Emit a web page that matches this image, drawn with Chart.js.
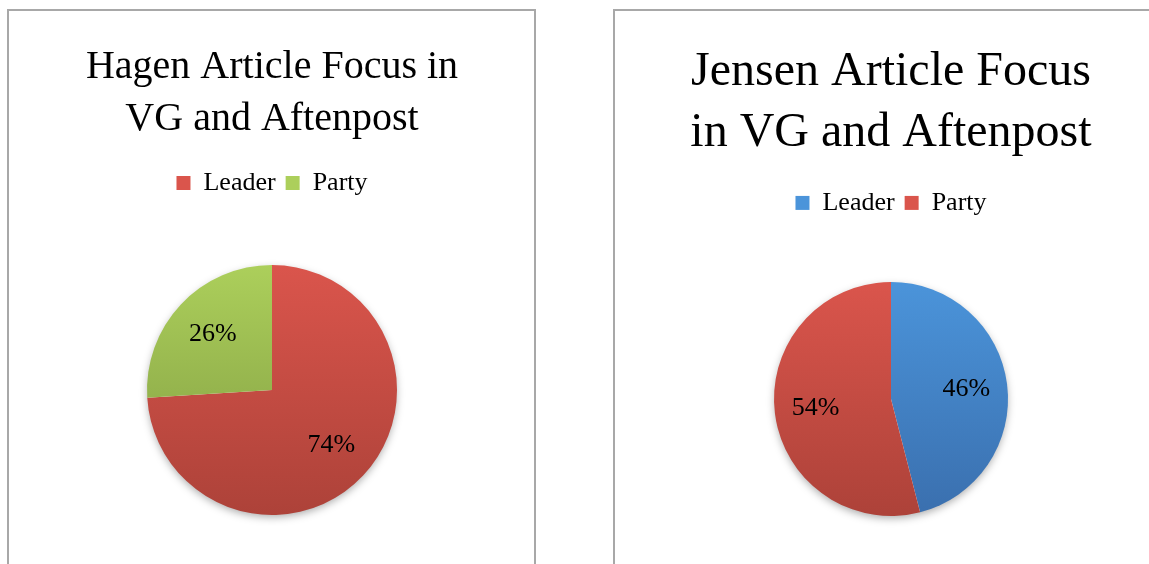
<!DOCTYPE html>
<html>
<head>
<meta charset="utf-8">
<script src="https://cdn.jsdelivr.net/npm/chart.js@4.4.0/dist/chart.umd.min.js"></script>
<style>
  html, body { margin: 0; padding: 0; background: #fff; overflow: hidden; width: 1149px; height: 564px; }
  .frame { position: absolute; border: 2px solid #a8a8a8; border-bottom: none; }
  canvas { position: absolute; top: 0; }
</style>
</head>
<body>
<div class="frame" style="left:7px; top:9px; width:525px; height:600px;"></div>
<div class="frame" style="left:613px; top:9px; width:600px; height:600px;"></div>
<canvas id="hagen" width="524" height="600" style="left:10px;"></canvas>
<canvas id="jensen" width="500" height="600" style="left:641px;"></canvas>
<script>
// data
const hagenTitle = ['Hagen Article Focus in', 'VG and Aftenpost'];
const hagenLabels = ['Leader', 'Party'];
const hagenValues = [74, 26];

const jensenTitle = ['Jensen Article Focus', 'in VG and Aftenpost'];
const jensenLabels = ['Leader', 'Party'];
const jensenValues = [46, 54];

const SERIF = '"Liberation Serif", "Times New Roman", serif';

// excel-ish vertical gradients (top colour, bottom colour)
const RED = ['#da554c', '#ad4239'];
const GREEN = ['#accf5b', '#7f9a40'];
const BLUE = ['#4b94da', '#3a6fae'];

function sliceFill(colours) {
  return function (c) {
    const ca = c.chart.chartArea;
    const pair = colours[c.dataIndex];
    if (!ca) return pair[0];
    const cy = (ca.top + ca.bottom) / 2;
    const r = c.dataset.radius;
    const g = c.chart.ctx.createLinearGradient(0, cy - r, 0, cy + r);
    g.addColorStop(0, pair[0]);
    g.addColorStop(1, pair[1]);
    return g;
  };
}

// soft shadow under the pie + percentage labels
const pieExtras = {
  id: 'pieExtras',
  beforeDatasetsDraw(chart) {
    const arc = chart.getDatasetMeta(0).data[0];
    if (!arc) return;
    const p = arc.getProps(['x', 'y', 'outerRadius'], true);
    const ctx = chart.ctx;
    ctx.save();
    ctx.shadowColor = 'rgba(0,0,0,0.35)';
    ctx.shadowBlur = 8;
    ctx.shadowOffsetY = 3;
    ctx.fillStyle = '#ffffff';
    ctx.beginPath();
    ctx.arc(p.x, p.y, p.outerRadius - 1, 0, Math.PI * 2);
    ctx.fill();
    ctx.restore();
  },
  afterDatasetsDraw(chart) {
    const ctx = chart.ctx;
    const values = chart.data.datasets[0].data;
    const total = values.reduce((a, b) => a + b, 0);
    ctx.save();
    ctx.font = '26px ' + SERIF;
    ctx.fillStyle = '#000';
    ctx.textAlign = 'center';
    ctx.textBaseline = 'middle';
    chart.getDatasetMeta(0).data.forEach(function (arc, i) {
      const p = arc.getProps(['x', 'y', 'startAngle', 'endAngle', 'outerRadius'], true);
      const mid = (p.startAngle + p.endAngle) / 2;
      const x = p.x + Math.cos(mid) * p.outerRadius * 0.65;
      const y = p.y + Math.sin(mid) * p.outerRadius * 0.65;
      ctx.fillText(Math.round(values[i] / total * 100) + '%', x, y);
    });
    ctx.restore();
  }
};

function makePie(id, title, labels, values, colours, opts) {
  new Chart(document.getElementById(id), {
    type: 'pie',
    data: {
      labels: labels,
      datasets: [{
        data: values,
        backgroundColor: sliceFill(colours),
        borderWidth: 0,
        radius: opts.radius
      }]
    },
    options: {
      responsive: false,
      animation: false,
      layout: { padding: { bottom: opts.bottom } },
      plugins: {
        title: {
          display: true,
          text: title,
          color: '#000',
          font: { family: SERIF, size: opts.titleSize, weight: 'normal', lineHeight: opts.titleLine },
          padding: { top: opts.titleTop, bottom: opts.titleBottom }
        },
        legend: {
          position: 'top',
          labels: {
            color: '#000',
            font: { family: SERIF, size: 26 },
            boxWidth: 14,
            boxHeight: 14,
            padding: 10
          }
        },
        tooltip: { enabled: false }
      }
    },
    plugins: [pieExtras]
  });
}

makePie('hagen', hagenTitle, hagenLabels, hagenValues, [RED, GREEN],
  { radius: 125, bottom: 26, titleSize: 40, titleLine: 1.3, titleTop: 41.5, titleBottom: 14.5 });
makePie('jensen', jensenTitle, jensenLabels, jensenValues, [BLUE, RED],
  { radius: 117, bottom: 28, titleSize: 48, titleLine: 1.27, titleTop: 42, titleBottom: 16 });
</script>
</body>
</html>
